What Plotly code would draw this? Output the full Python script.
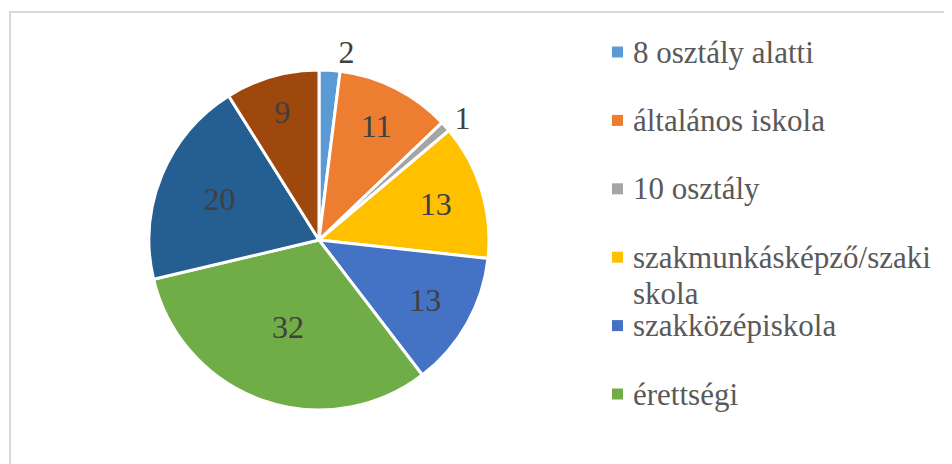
import plotly.graph_objects as go

# iskolai végzettség megoszlása
labels = ['8 osztály alatti', 'általános iskola', '10 osztály',
          'szakmunkásképző/szaki<br>skola', 'szakközépiskola', 'érettségi',
          'főiskola', 'egyetem']
values = [2, 11, 1, 13, 13, 32, 20, 9]
colors = ['#5B9BD5', '#ED7D31', '#A5A5A5', '#FFC000',
          '#4472C4', '#70AD47', '#255E91', '#9E480E']
text_pos = ['outside', 'inside', 'outside', 'inside',
            'inside', 'inside', 'inside', 'inside']
legend_shown = 6  # the rest is cut off at the bottom of the chart

W, H = 952, 464
OFF = 8  # the page body adds 8px around the figure
FONT = 'Liberation Serif'


def px_x(x):
    return (x - OFF) / W


def px_y(y):
    return 1 - (y - OFF) / H


fig = go.Figure()

cx, cy, r = 319, 240, 170
fig.add_trace(go.Pie(
    labels=labels,
    values=values,
    sort=False,
    direction='clockwise',
    rotation=0,
    marker=dict(colors=colors, line=dict(color='white', width=3)),
    textinfo='value',
    textposition=text_pos,
    insidetextorientation='horizontal',
    textfont=dict(family=FONT, size=32, color='#404040'),
    outsidetextfont=dict(family=FONT, size=32, color='#404040'),
    showlegend=False,
    domain=dict(x=[px_x(cx - r), px_x(cx + r)],
                y=[px_y(cy + r), px_y(cy - r)]),
    hovertemplate='%{label}: %{value}<extra></extra>'
))

# hand made legend, Excel style (squares + grey text)
row_gap = 68.4
line_gap = 36
for i in range(legend_shown):
    yc = 52 + i * row_gap
    fig.add_shape(type='rect', xref='paper', yref='paper',
                  x0=px_x(612), x1=px_x(623),
                  y0=px_y(yc + 5.5), y1=px_y(yc - 5.5),
                  fillcolor=colors[i], line=dict(width=0))
    for j, part in enumerate(labels[i].split('<br>')):
        fig.add_annotation(x=px_x(631), y=px_y(yc + j * line_gap),
                           xref='paper', yref='paper',
                           xanchor='left', yanchor='middle',
                           text=part, showarrow=False,
                           font=dict(family=FONT, size=31, color='#595959'))

# chart frame
fig.add_shape(type='rect', xref='paper', yref='paper',
              x0=px_x(10), x1=1.05, y0=-0.05, y1=px_y(12),
              line=dict(color='#D9D9D9', width=2), fillcolor='rgba(0,0,0,0)')

fig.update_layout(
    width=W, height=H,
    margin=dict(l=0, r=0, t=0, b=0),
    font=dict(family=FONT),
    paper_bgcolor='white',
    plot_bgcolor='white'
)

fig.write_html("out.html")
